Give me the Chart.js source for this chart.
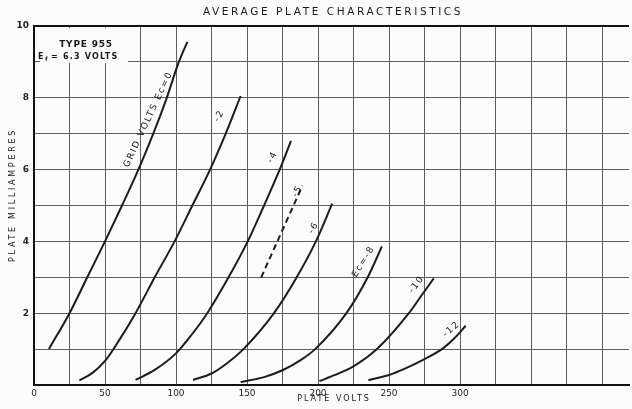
<!DOCTYPE html>
<html>
<head>
<meta charset="utf-8">
<script src="https://cdn.jsdelivr.net/npm/chart.js@4.4.0/dist/chart.umd.min.js"></script>
<style>
  html, body { margin: 0; padding: 0; background: #fcfcfc; }
  #wrap { width: 632px; height: 409px; }
</style>
</head>
<body>
<div id="wrap"><canvas id="plateChart" width="632" height="409"></canvas></div>
<script>
'use strict';

// data (plate volts / plate milliamperes) ------------------------------------
let xTickLabels = [0, 50, 100, 150, 200, 250, 300];
let yTickLabels = [2, 4, 6, 8, 10];

let ec0Volts = [10.5, 25, 37.5, 50, 62, 73.5, 84, 93.5, 102, 108];
let ec0Amps = [1, 2, 3, 4, 5, 6, 7, 8, 9, 9.56];

let ec2Volts = [32, 41, 50, 60, 71.5, 85, 99, 111.5, 124, 135, 145.5];
let ec2Amps = [0.13, 0.33, 0.67, 1.25, 2, 3, 4, 5, 6, 7, 8.05];

let ec4Volts = [71.5, 85, 100, 111, 122, 137, 150.5, 162, 173, 181];
let ec4Amps = [0.14, 0.42, 0.88, 1.4, 2, 3, 4, 5, 6, 6.8];

let ec5Volts = [160, 189];
let ec5Amps = [3.0, 5.55];

let ec6Volts = [112, 125, 135, 147.5, 169, 185, 198.5, 210];
let ec6Amps = [0.14, 0.32, 0.58, 1, 2, 3, 4, 5.05];

let ec8Volts = [145.5, 162, 175, 188, 198, 220, 235, 245];
let ec8Amps = [0.08, 0.22, 0.41, 0.7, 1, 2, 3, 3.86];

let ec10Volts = [201, 212, 225, 241.5, 264, 273, 281.5];
let ec10Amps = [0.11, 0.28, 0.52, 1, 2, 2.5, 2.97];

let ec12Volts = [235.5, 250, 262, 275, 288, 296, 304];
let ec12Amps = [0.14, 0.28, 0.47, 0.72, 1.02, 1.3, 1.65];

// curve labels, placed in data units
let curveLabels = [
  { text: 'GRID VOLTS Ec=0', v: 80.5, ma: 7.4, angle: -65 },
  { text: '-2', v: 130.5, ma: 7.5, angle: -60 },
  { text: '-4', v: 168, ma: 6.35, angle: -60 },
  { text: '-5', v: 185.5, ma: 5.4, angle: -60 },
  { text: '-6', v: 197, ma: 4.38, angle: -58 },
  { text: 'Ec=-8', v: 232, ma: 3.44, angle: -58 },
  { text: '-10', v: 269.5, ma: 2.8, angle: -52 },
  { text: '-12', v: 294, ma: 1.55, angle: -40 }
];

function makePoints(volts, amps) {
  let pts = [];
  for (let i = 0; i < volts.length; i++) {
    pts.push({ x: volts[i], y: amps[i] });
  }
  return pts;
}

function curve(volts, amps, dashed) {
  return {
    data: makePoints(volts, amps),
    borderColor: '#1c1c1c',
    borderWidth: 2,
    borderDash: dashed ? [6, 4] : [],
    pointRadius: 0,
    cubicInterpolationMode: 'monotone',
    fill: false
  };
}

// draws title, axis titles, type box and curve labels
let textPlugin = {
  id: 'textPlugin',
  beforeDatasetsDraw(chart) {
    let ctx = chart.ctx;
    ctx.save();
    ctx.fillStyle = '#fcfcfc';
    ctx.fillRect(40, 28, 88, 35);
    ctx.restore();
  },
  afterDraw(chart) {
    let ctx = chart.ctx;
    let xs = chart.scales.x;
    let ys = chart.scales.y;
    ctx.save();
    ctx.fillStyle = '#1a1a1a';
    ctx.textBaseline = 'middle';
    ctx.textAlign = 'center';

    ctx.font = '10.5px "DejaVu Sans"';
    ctx.letterSpacing = '2.6px';
    ctx.fillText('AVERAGE PLATE CHARACTERISTICS', 333, 12);

    ctx.font = '8px "DejaVu Sans"';
    ctx.letterSpacing = '2px';
    ctx.fillText('PLATE VOLTS', 334, 399);

    ctx.save();
    ctx.translate(13, 195);
    ctx.rotate(-Math.PI / 2);
    ctx.letterSpacing = '2.7px';
    ctx.fillText('PLATE MILLIAMPERES', 0, 0);
    ctx.restore();

    // type box
    ctx.letterSpacing = '0.8px';
    ctx.font = 'bold 9px "DejaVu Sans"';
    ctx.fillText('TYPE 955', 86, 45);
    ctx.font = 'bold 8px "DejaVu Sans"';
    ctx.textAlign = 'left';
    ctx.fillText('E', 38, 57);
    ctx.font = 'bold 6px "DejaVu Sans"';
    ctx.fillText('f', 45, 59);
    ctx.font = 'bold 8px "DejaVu Sans"';
    ctx.letterSpacing = '1.2px';
    ctx.fillText('= 6.3 VOLTS', 51, 57);

    // curve labels
    ctx.textAlign = 'center';
    ctx.font = '9px "DejaVu Sans"';
    ctx.letterSpacing = '1.6px';
    for (let i = 0; i < curveLabels.length; i++) {
      let lab = curveLabels[i];
      ctx.save();
      ctx.translate(xs.getPixelForValue(lab.v), ys.getPixelForValue(lab.ma));
      ctx.rotate(lab.angle * Math.PI / 180);
      ctx.fillText(lab.text, 0, 0);
      ctx.restore();
    }
    ctx.restore();
  }
};

let chartObject = {
  type: 'line',
  data: {
    datasets: [
      curve(ec0Volts, ec0Amps),
      curve(ec2Volts, ec2Amps),
      curve(ec4Volts, ec4Amps),
      curve(ec5Volts, ec5Amps, true),
      curve(ec6Volts, ec6Amps),
      curve(ec8Volts, ec8Amps),
      curve(ec10Volts, ec10Amps),
      curve(ec12Volts, ec12Amps)
    ]
  },
  options: {
    responsive: false,
    animation: false,
    layout: { padding: { top: 26, right: 0, left: 0, bottom: 0 } },
    plugins: {
      legend: { display: false },
      title: { display: false },
      tooltip: { enabled: false }
    },
    scales: {
      x: {
        type: 'linear',
        min: 0,
        max: 419,
        afterFit: (scale) => { scale.height = 24; },
        border: { color: '#111', width: 2 },
        grid: {
          drawTicks: false,
          color: (c) => (c.tick && c.tick.value > 400 ? 'rgba(0,0,0,0)' : '#5e5e5e'),
          lineWidth: 1
        },
        ticks: {
          stepSize: 25,
          padding: 3,
          autoSkip: false,
          maxRotation: 0,
          color: '#222',
          font: { family: 'DejaVu Sans', size: 9 },
          callback: (value) => (xTickLabels.includes(value) ? String(value) : '')
        }
      },
      y: {
        type: 'linear',
        min: 0,
        max: 10,
        afterFit: (scale) => { scale.width = 34; },
        border: { color: '#111', width: 2 },
        grid: {
          drawTicks: false,
          color: (c) => (c.tick && c.tick.value === 10 ? '#111' : '#5e5e5e'),
          lineWidth: (c) => (c.tick && c.tick.value === 10 ? 2 : 1)
        },
        ticks: {
          stepSize: 1,
          padding: 5,
          autoSkip: false,
          color: '#222',
          font: { family: 'DejaVu Sans', size: 9, weight: 'bold' },
          callback: (value) => (yTickLabels.includes(value) ? String(value) : '')
        }
      }
    }
  },
  plugins: [textPlugin]
};

let ctx = document.getElementById('plateChart').getContext('2d');
let myChart = new Chart(ctx, chartObject);
</script>
</body>
</html>
